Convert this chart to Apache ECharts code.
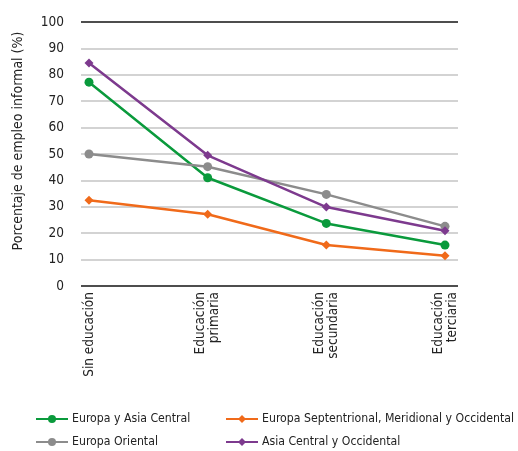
<!DOCTYPE html>
<html><head><meta charset="utf-8">
<script src="https://cdn.jsdelivr.net/npm/echarts@6/dist/echarts.min.js"></script>
<style>html,body{margin:0;padding:0;background:#fff}#c{width:518px;height:451px}</style>
</head><body><div id="c"></div>
<script>
const categories = ['Sin educación', 'Educación\nprimaria', 'Educación\nsecundaria', 'Educación\nterciaria'];
const yTicks = [0, 10, 20, 30, 40, 50, 60, 70, 80, 90, 100];
const europaAsiaCentral = [77.2, 41.0, 23.7, 15.5];
const europaSeptentrional = [32.5, 27.2, 15.5, 11.5];
const europaOriental = [50.0, 45.2, 34.7, 22.6];
const asiaCentralOccidental = [84.5, 49.5, 29.9, 20.9];
const seriesNames = ['Europa y Asia Central', 'Europa Septentrional, Meridional y Occidental', 'Europa Oriental', 'Asia Central y Occidental'];

const FONT = "'Liberation Sans Narrow','DejaVu Sans Condensed',sans-serif";
const colors = ['#0a9a3c', '#f06a1a', '#8c8c8c', '#7d3a8e'];
const chart = echarts.init(document.getElementById('c'));
const mk = (i, data, sym, size) => ({
  name: seriesNames[i], type: 'line', data: data, xAxisIndex: 1, yAxisIndex: 1,
  symbol: sym, symbolSize: size, showSymbol: true,
  lineStyle: {color: colors[i], width: 2.5},
  itemStyle: {color: colors[i]}, z: 3
});
const legendText = {fontSize: 12.2, color: '#222', fontFamily: FONT, padding: [0, 0, 0, -1]};
chart.setOption({
  animation: false,
  textStyle: {fontFamily: FONT},
  grid: [
    {left: 81, right: 60, top: 22, bottom: 165},
    {left: 89, right: 73, top: 22, bottom: 165}
  ],
  xAxis: [
    {gridIndex: 0, type: 'value', min: 0, max: 1, show: false},
    {gridIndex: 1, type: 'category', data: categories, boundaryGap: false,
     axisLine: {show: false}, axisTick: {show: false},
     axisLabel: {rotate: 90, interval: 0, fontSize: 13.5, color: '#222', fontFamily: FONT, margin: 6, lineHeight: 14}}
  ],
  yAxis: [
    {gridIndex: 0, type: 'value', min: 0, max: 100, interval: 10,
     name: 'Porcentaje de empleo informal (%)', nameLocation: 'middle', nameGap: 56,
     nameTextStyle: {fontSize: 14, color: '#222', fontFamily: FONT, padding: [0, 0, 0, 26]},
     axisLine: {show: false}, axisTick: {show: false},
     axisLabel: {fontSize: 13.5, color: '#222', fontFamily: FONT, margin: 17,
       formatter: v => yTicks.includes(v) ? String(v) : ''},
     splitLine: {lineStyle: {color: '#c4c4c4', width: 1.5}}},
    {gridIndex: 1, type: 'value', min: 0, max: 100, show: false}
  ],
  legend: [
    {data: [seriesNames[0], seriesNames[2]], left: 35, top: 413, height: 60, padding: 0, orient: 'vertical', itemGap: 11,
     itemWidth: 32, itemHeight: 10, textStyle: legendText},
    {data: [seriesNames[1], seriesNames[3]], left: 225, top: 413, height: 60, padding: 0, orient: 'vertical', itemGap: 11,
     itemWidth: 32, itemHeight: 10, textStyle: legendText}
  ],
  series: [
    {type: 'line', xAxisIndex: 0, yAxisIndex: 0, data: [], silent: true,
     markLine: {silent: true, symbol: 'none', label: {show: false},
       lineStyle: {color: '#222', width: 1.5, type: 'solid'},
       data: [{yAxis: 0}, {yAxis: 100}]}},
    mk(0, europaAsiaCentral, 'circle', 9),
    mk(1, europaSeptentrional, 'diamond', 9),
    mk(2, europaOriental, 'circle', 9),
    mk(3, asiaCentralOccidental, 'diamond', 9)
  ]
});
</script></body></html>
